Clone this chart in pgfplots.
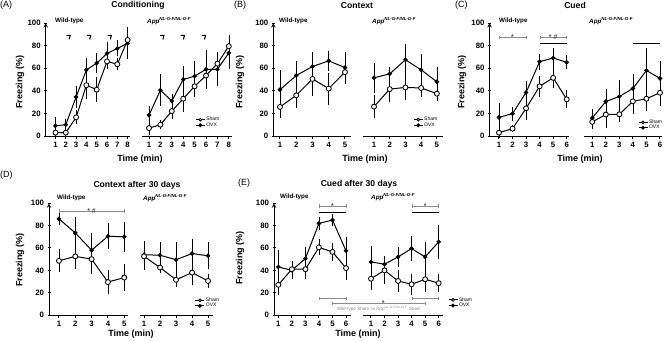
\documentclass[border=0pt]{standalone}
\usepackage{pgfplots}
\usepackage{pgfplotstable}
\pgfplotsset{compat=1.18}
\usetikzlibrary{arrows.meta,calc}
\usepackage{fontspec}
\setmainfont{Liberation Sans}

\definecolor{sig}{gray}{0.55}
\definecolor{sigtext}{gray}{0.3}

% columns: time (min), Sham mean, Sham SEM, OVX mean, OVX SEM
\pgfplotstableread{
x s se o oe
1 3 2 9 6
2 3 2 10 3
3 16.5 4 34.5 8
4 45 10 58.5 8
5 41 9 64.5 7
6 66 5 73 8
7 63.5 3 77.5 5
8 85 9 82 12
}\condWT
\pgfplotstableread{
x s se o oe
1 7 4 18.5 6
2 10 2 40.5 12
3 22 5 31 4
4 33 10 50 10
5 44 7 53 11
6 53.5 8 59 15
7 64 7 59 13
8 79.5 8 73.5 12
}\condApp
\pgfplotstableread{
x s se o oe
1 25.7 7.5 41 15.5
2 36 9 53.5 11
3 50.5 13 61.5 11
4 42 12 66.5 7
5 56.5 8 60.5 12
}\ctxWT
\pgfplotstableread{
x s se o oe
1 26 8 51.5 11
2 41.5 9 55 4
3 43 9 67.5 11.5
4 42.5 6 58.5 12
5 37.5 4 48 11
}\ctxApp
\pgfplotstableread{
x s se o oe
1 3 3 16.5 10.5
2 6.5 1 19.8 4
3 24.5 8.5 38.5 8
4 44 7 65.8 5
5 51.5 7 69 7
6 32.5 6 65.2 4
}\cueWT
\pgfplotstableread{
x s se o oe
1 12.5 4 16 5.5
2 19 9.5 30.5 9
3 19.2 5 35 12
4 30.7 9 42 11
5 33 8.5 58 18
6 38.3 10 51 13
}\cueApp
\pgfplotstableread{
x s se o oe
1 48.5 8 86 3
2 52.5 9 73.5 12
3 50 11 58 13
4 29.5 8.5 70.5 9.5
5 33.5 10 70 11
}\ctxLateWT
\pgfplotstableread{
x s se o oe
1 52.5 10 54 10
2 42.5 3 53.5 9.5
3 31.5 4 49.5 13.5
4 38 9 55 11
5 30.5 4.5 53 10
}\ctxLateApp
\pgfplotstableread{
x s se o oe
1 27 6.5 43 13
2 41 5 40 6
3 41 7 50.5 8
4 60.5 5 82 3.5
5 56.5 6 85 3.5
6 42 8.5 57.5 10.5
}\cueLateWT
\pgfplotstableread{
x s se o oe
1 32.5 8 47.5 12
2 40 10 45.5 5.5
3 30.5 7.5 52 7
4 27.5 7 59.5 9
5 32 9.5 52 11
6 28.5 6 65.5 13
}\cueLateApp

\newcommand{\appgene}{{\bfseries\itshape App}\textsuperscript{\itshape NL-G-F/NL-G-F}}
\newcommand{\starhash}{* \#}

\pgfplotsset{
  fr/.style={scale only axis, clip=false, ymin=0, ymax=100,
    anchor=south west,
    axis x line=bottom,
    axis line style={-, line width=1pt},
    tick align=outside, major tick length=3pt,
    tick style={line width=1pt, black},
    every tick label/.append style={font=\bfseries\fontsize{7.8}{8}\selectfont},
    /pgf/number format/assume math mode=true,
    legend cell align=left},
  wt/.style={fr, axis y line=left, ytick={0,20,...,100}},
  app/.style={fr, axis y line=none},
  sham/.style={black, line width=1pt, mark=*, mark size=2.5pt,
    mark options={fill=white, draw=black, line width=0.85pt, solid},
    error bars/y dir=both, error bars/y explicit,
    error bars/error bar style={line width=0.6pt, black},
    error bars/error mark options={line width=0.6pt, mark size=2.4pt, black}},
  ovx/.style={black, line width=1pt, mark=*, mark size=1.7pt,
    mark options={fill=black, draw=black, solid},
    error bars/y dir=both, error bars/y explicit,
    error bars/error bar style={line width=0.6pt, black},
    error bars/error mark options={line width=0.6pt, mark size=2.4pt, black}},
  lg/.style={legend style={at={(#1)}, anchor=west, draw=none, fill=none,
      inner sep=0pt, row sep=-1.5pt, font=\fontsize{5}{5}\selectfont,
      nodes={inner sep=1pt}},
    reverse legend,
    legend image code/.code={\draw[mark repeat=2, mark phase=2, ##1, mark size=1.4pt]
      plot coordinates {(0pt,0pt) (4.5pt,0pt) (9pt,0pt)};}},
}
\tikzset{
  gbr/.style={sig, line width=0.5pt, {Bar[width=3.5pt]}-{Bar[width=3.5pt]}},
  sigstar/.style={sigtext, font=\bfseries\fontsize{7}{7}\selectfont, inner sep=0pt, anchor=base, yshift=-2pt},
  shock/.style={black, line width=1.1pt},
}

\begin{document}
\begin{tikzpicture}
\useasboundingbox (0pt,0pt) rectangle (669pt,-341pt);

% ---------- (A) Conditioning ----------
\begin{axis}[wt, at={(45.7pt,-136pt)}, width=84.3pt, height=113pt,
  xmin=0.05, xmax=8.23, xtick={1,...,8}]
\addplot[ovx] table[x=x, y=o, y error=oe] {\condWT};
\addplot[sham] table[x=x, y=s, y error=se] {\condWT};
% tone/shock markers
\draw[shock] (axis cs:2.05,89) -- (axis cs:2.42,89) -- (axis cs:2.32,85.5);
\draw[shock] (axis cs:4.05,89) -- (axis cs:4.42,89) -- (axis cs:4.32,85.5);
\draw[shock] (axis cs:6.05,89) -- (axis cs:6.42,89) -- (axis cs:6.32,85.5);
\end{axis}
\begin{axis}[app, at={(142pt,-136pt)}, width=90pt, height=113pt,
  xmin=0.386, xmax=8.28, xtick={1,...,8}, lg={0.59,0.12}]
\addplot[ovx] table[x=x, y=o, y error=oe] {\condApp};
\addplot[sham] table[x=x, y=s, y error=se] {\condApp};
\legend{OVX, Sham}
\draw[shock] (axis cs:1.98,89) -- (axis cs:2.31,89) -- (axis cs:2.22,85.5);
\draw[shock] (axis cs:3.78,89) -- (axis cs:4.11,89) -- (axis cs:4.02,85.5);
\draw[shock] (axis cs:5.63,89) -- (axis cs:5.96,89) -- (axis cs:5.87,85.5);
\end{axis}

% ---------- (B) Context ----------
\begin{axis}[wt, at={(273.3pt,-136pt)}, width=77.7pt, height=113pt,
  xmin=0.59, xmax=5.37, xtick={1,...,5}]
\addplot[ovx] table[x=x, y=o, y error=oe] {\ctxWT};
\addplot[sham] table[x=x, y=s, y error=se] {\ctxWT};
\end{axis}
\begin{axis}[app, at={(363pt,-136pt)}, width=80pt, height=113pt,
  xmin=0.30, xmax=5.39, xtick={1,...,5}, lg={0.625,0.12}]
\addplot[ovx] table[x=x, y=o, y error=oe] {\ctxApp};
\addplot[sham] table[x=x, y=s, y error=se] {\ctxApp};
\legend{OVX, Sham}
\end{axis}

% ---------- (C) Cued ----------
\begin{axis}[wt, at={(489.5pt,-136pt)}, width=79.5pt, height=113pt,
  xmin=0.30, xmax=6.17, xtick={1,...,6}]
\addplot[ovx] table[x=x, y=o, y error=oe] {\cueWT};
\addplot[sham] table[x=x, y=s, y error=se] {\cueWT};
\draw[gbr] (axis cs:1,87) -- (axis cs:3,87);
\node[sigstar] at (axis cs:2,87) {*};
\draw[gbr] (axis cs:4,87) -- (axis cs:6,87);
\node[sigstar] at (axis cs:5,87) {\starhash};
\draw[black, line width=1pt] (axis cs:4,82) -- (axis cs:6,82);
\end{axis}
\begin{axis}[app, at={(584pt,-136pt)}, width=78pt, height=113pt,
  xmin=0.39, xmax=6.15, xtick={1,...,6}, lg={0.69,0.097}]
\addplot[ovx] table[x=x, y=o, y error=oe] {\cueApp};
\addplot[sham] table[x=x, y=s, y error=se] {\cueApp};
\legend{OVX, Sham}
\draw[black, line width=1pt] (axis cs:4,82) -- (axis cs:6,82);
\end{axis}

% ---------- (D) Context after 30 days ----------
\begin{axis}[wt, at={(49pt,-315pt)}, width=79pt, height=111.7pt,
  xmin=0.39, xmax=5.23, xtick={1,...,5}]
\addplot[ovx] table[x=x, y=o, y error=oe] {\ctxLateWT};
\addplot[sham] table[x=x, y=s, y error=se] {\ctxLateWT};
\draw[gbr] (axis cs:1,93) -- (axis cs:5,93);
\node[sigstar] at (axis cs:3,93) {\starhash};
\end{axis}
\begin{axis}[app, at={(140pt,-315pt)}, width=73pt, height=111.7pt,
  xmin=0.75, xmax=5.31, xtick={1,...,5}, lg={0.75,0.107}]
\addplot[ovx] table[x=x, y=o, y error=oe] {\ctxLateApp};
\addplot[sham] table[x=x, y=s, y error=se] {\ctxLateApp};
\legend{OVX, Sham}
\end{axis}

% ---------- (E) Cued after 30 days ----------
\begin{axis}[wt, at={(274pt,-315pt)}, width=77pt, height=111.7pt,
  xmin=0.68, xmax=6.37, xtick={1,...,6}]
\addplot[ovx] table[x=x, y=o, y error=oe] {\cueLateWT};
\addplot[sham] table[x=x, y=s, y error=se] {\cueLateWT};
\draw[gbr] (axis cs:4,97.5) -- (axis cs:6,97.5);
\node[sigstar] at (axis cs:5,97.5) {*};
\draw[black, line width=1pt] (axis cs:4,92) -- (axis cs:6,92);
\draw[gbr] (axis cs:4,15) -- (axis cs:6,15);
\coordinate (lbA) at (axis cs:5,10.5);
\end{axis}
\begin{axis}[app, at={(363pt,-315pt)}, width=80pt, height=111.7pt,
  xmin=0.41, xmax=6.32, xtick={1,...,6}, lg={1.06,0.11}]
\addplot[ovx] table[x=x, y=o, y error=oe] {\cueLateApp};
\addplot[sham] table[x=x, y=s, y error=se] {\cueLateApp};
\legend{OVX, Sham}
\draw[gbr] (axis cs:4,97.5) -- (axis cs:6,97.5);
\node[sigstar] at (axis cs:5,97.5) {*};
\draw[black, line width=1pt] (axis cs:4,92) -- (axis cs:6,92);
\draw[gbr] (axis cs:4,15) -- (axis cs:6,15);
\coordinate (lbB) at (axis cs:5,10.5);
\coordinate (lbS) at (axis cs:1.9,10.5);
\end{axis}
% Wild-type Sham vs App Sham comparison across the two genotypes
\draw[gbr] (lbA) -- (lbB);
\node[sigstar] at (lbS) {*};
\node[sig, font=\fontsize{4.6}{5}\selectfont, inner sep=0pt] at ($(lbA)!0.5!(lbB)+(0,-5.5pt)$)
  {Wild-type Sham vs \textit{App}\textsuperscript{\itshape NL-G-F/NL-G-F} Sham};

% ---------- panel letters, titles and labels ----------
\tikzset{
  letter/.style={anchor=west, inner sep=0pt, font=\fontsize{9}{9}\selectfont},
  ttl/.style={inner sep=0pt, font=\bfseries\fontsize{8.6}{9}\selectfont},
  sub/.style={anchor=west, inner sep=0pt, font=\bfseries\fontsize{6.3}{7}\selectfont},
  ylab/.style={rotate=90, inner sep=0pt, font=\bfseries\fontsize{9}{9}\selectfont},
  xlab/.style={inner sep=0pt, font=\bfseries\fontsize{9}{9}\selectfont},
}
\node[letter] at (0pt,-5.5pt) {(A)};
\node[letter] at (234pt,-5.5pt) {(B)};
\node[letter] at (455pt,-5.5pt) {(C)};
\node[letter] at (0pt,-175pt) {(D)};
\node[letter] at (238pt,-183pt) {(E)};

\node[ttl] at (138pt,-5.5pt) {Conditioning};
\node[ttl] at (357pt,-5.5pt) {Context};
\node[ttl] at (575pt,-5.5pt) {Cued};
\node[ttl] at (137pt,-185pt) {Context after 30 days};
\node[ttl] at (359pt,-184pt) {Cued after 30 days};

\node[sub] at (55pt,-21pt) {Wild-type};
\node[sub] at (147pt,-21pt) {\appgene};
\node[sub] at (279pt,-21pt) {Wild-type};
\node[sub] at (372pt,-21pt) {\appgene};
\node[sub] at (499pt,-21pt) {Wild-type};
\node[sub] at (589pt,-21pt) {\appgene};
\node[sub] at (57pt,-198pt) {Wild-type};
\node[sub] at (143pt,-198pt) {\appgene};
\node[sub] at (280pt,-197pt) {Wild-type};
\node[sub] at (371pt,-197pt) {\appgene};

\node[ylab] at (20pt,-82pt) {Freezing (\%)};
\node[ylab] at (240pt,-82pt) {Freezing (\%)};
\node[ylab] at (462pt,-82pt) {Freezing (\%)};
\node[ylab] at (20pt,-260pt) {Freezing (\%)};
\node[ylab] at (240pt,-258pt) {Freezing (\%)};

\node[xlab] at (140pt,-159pt) {Time (min)};
\node[xlab] at (365pt,-159pt) {Time (min)};
\node[xlab] at (580pt,-159pt) {Time (min)};
\node[xlab] at (131pt,-334pt) {Time (min)};
\node[xlab] at (358pt,-334pt) {Time (min)};
\end{tikzpicture}
\end{document}
